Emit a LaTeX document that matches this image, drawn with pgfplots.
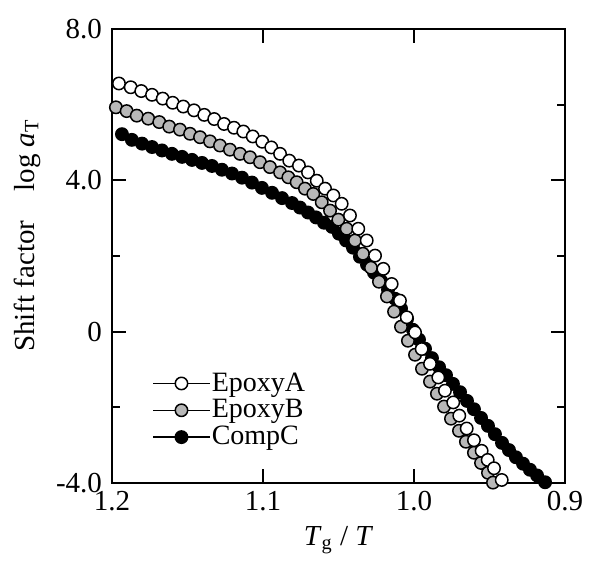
\documentclass[border=0pt]{standalone}
\usepackage{fontspec}
\setmainfont{Liberation Serif}
\usepackage{pgfplots}
\pgfplotsset{compat=1.18}
\usepackage{pgfplotstable}

\pgfplotstableread{
x y
1.1954 6.56
1.1876 6.46
1.1806 6.36
1.1735 6.26
1.1664 6.16
1.1598 6.05
1.1528 5.95
1.1457 5.85
1.1389 5.73
1.1323 5.62
1.1258 5.49
1.1192 5.39
1.1130 5.29
1.1068 5.16
1.1005 5.02
1.0945 4.87
1.0887 4.70
1.0826 4.52
1.0762 4.39
1.0702 4.21
1.0644 3.99
1.0589 3.78
1.0534 3.60
1.0479 3.38
1.0424 3.07
1.0369 2.72
1.0313 2.41
1.0258 2.01
1.0203 1.66
1.0148 1.26
1.0093 0.82
1.0048 0.38
0.9993 -0.02
0.9949 -0.46
0.9894 -0.85
0.9839 -1.21
0.9795 -1.56
0.9740 -1.87
0.9700 -2.22
0.9651 -2.56
0.9603 -2.87
0.9552 -3.15
0.9512 -3.39
0.9470 -3.61
0.9419 -3.92
}\epoxyA

\pgfplotstableread{
x y
1.1974 5.93
1.1903 5.83
1.1836 5.71
1.1760 5.63
1.1687 5.54
1.1621 5.42
1.1550 5.34
1.1483 5.23
1.1417 5.14
1.1351 5.03
1.1285 4.92
1.1219 4.81
1.1152 4.70
1.1086 4.61
1.1020 4.48
1.0954 4.35
1.0887 4.21
1.0832 4.08
1.0777 3.95
1.0722 3.78
1.0667 3.64
1.0611 3.42
1.0556 3.20
1.0501 2.96
1.0446 2.72
1.0391 2.41
1.0338 2.06
1.0285 1.69
1.0232 1.32
1.0179 0.93
1.0132 0.53
1.0086 0.13
1.0040 -0.24
0.9993 -0.61
0.9947 -0.98
0.9894 -1.32
0.9848 -1.64
0.9801 -1.98
0.9755 -2.30
0.9702 -2.62
0.9656 -2.91
0.9603 -3.20
0.9556 -3.47
0.9510 -3.73
0.9477 -3.99
}\epoxyB

\pgfplotstableread{
x y
1.1934 5.22
1.1868 5.07
1.1801 4.97
1.1735 4.88
1.1669 4.79
1.1603 4.70
1.1536 4.62
1.1470 4.54
1.1404 4.46
1.1338 4.38
1.1272 4.28
1.1205 4.18
1.1139 4.07
1.1073 3.94
1.1007 3.80
1.0940 3.67
1.0874 3.53
1.0808 3.40
1.0755 3.28
1.0702 3.15
1.0649 3.02
1.0596 2.88
1.0543 2.77
1.0497 2.59
1.0450 2.41
1.0404 2.22
1.0358 1.98
1.0311 1.77
1.0265 1.56
1.0219 1.35
1.0172 1.11
1.0126 0.87
1.0086 0.61
1.0046 0.34
1.0007 0.05
0.9967 -0.21
0.9927 -0.45
0.9881 -0.70
0.9834 -0.94
0.9788 -1.15
0.9742 -1.38
0.9695 -1.60
0.9649 -1.83
0.9603 -2.05
0.9556 -2.28
0.9510 -2.49
0.9464 -2.71
0.9417 -2.94
0.9371 -3.13
0.9325 -3.32
0.9278 -3.49
0.9232 -3.65
0.9185 -3.80
0.9132 -3.98
}\compC

\pgfplotsset{
  mylegend/.style={
    legend image code/.code={
      \draw[black,line width=0.65pt] (0cm,0cm) -- (1cm,0cm);
      \draw[##1] plot coordinates {(0.5cm,0cm)};
    }
  }
}

\begin{document}
\begin{tikzpicture}
\useasboundingbox (-56pt,-44pt) rectangle (238.5pt,241.5pt);
\begin{axis}[
  at={(0pt,0pt)}, anchor=south west,
  scale only axis,
  width=226.5pt, height=227pt,
  x dir=reverse,
  xmin=0.9, xmax=1.2,
  ymin=-4, ymax=8,
  xtick={0.9,1.0,1.1,1.2},
  xticklabels={0.9,1.0,1.1,1.2},
  ytick={-4,0,4,8},
  yticklabels={-4.0,0,4.0,8.0},
  minor ytick={-2,2,6},
  tick align=inside,
  major tick length=7pt,
  minor tick length=4pt,
  every tick/.style={black, line width=0.9pt},
  axis line style={line width=1pt},
  tick label style={font=\fontsize{14.5}{16}\selectfont},
  /pgf/number format/assume math mode=true,
  xticklabel style={yshift=-0.5pt},
  yticklabel style={xshift=-1.5pt},
  label style={font=\fontsize{14.5}{16}\selectfont},
  xlabel={\textit{T}\textsubscript{g} / \textit{T}},
  xlabel style={yshift=-1pt},
  ylabel={Shift factor\hspace{1em}log \textit{a}\textsubscript{T}},
  ylabel style={at={(ticklabel cs:0.545)}, yshift=1pt},
  legend style={draw=none, fill=none, at={(axis description cs:0.075,0.065)}, anchor=south west,
    font=\fontsize{14}{15}\selectfont, row sep=1.5pt, nodes={inner sep=0.6pt}},
  legend cell align=left,
  reverse legend,
]
\addplot[only marks, mark=*, mark size=3.1pt, mark options={fill=black, draw=black, line width=0.75pt}, mylegend] table[x=x,y=y] {\compC};
\addlegendentry{CompC}
\addplot[only marks, mark=*, mark size=3.1pt, mark options={fill=black!28, draw=black, line width=0.75pt}, mylegend] table[x=x,y=y] {\epoxyB};
\addlegendentry{EpoxyB}
\addplot[only marks, mark=*, mark size=3.1pt, mark options={fill=white, draw=black, line width=0.75pt}, mylegend] table[x=x,y=y] {\epoxyA};
\addlegendentry{EpoxyA}
\end{axis}
\end{tikzpicture}
\end{document}
